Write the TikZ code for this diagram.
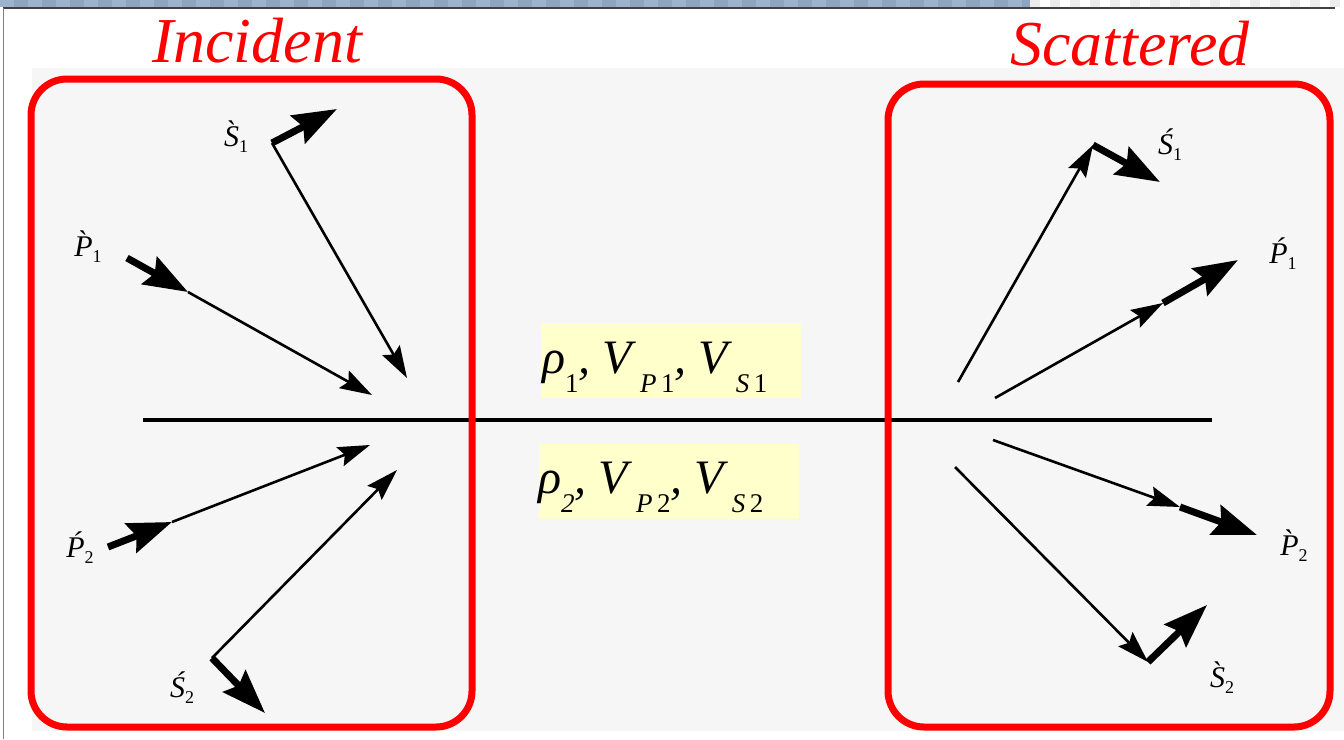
\documentclass[tikz,border=0pt]{standalone}
\usepackage{fontspec}
\setmainfont{Liberation Serif}
\usetikzlibrary{arrows.meta}
\definecolor{redbox}{HTML}{FF0000}
\definecolor{panel}{HTML}{F6F6F6}
\definecolor{yel}{HTML}{FFFFCC}
\definecolor{bluea}{HTML}{8EA4C1}
\definecolor{blueb}{HTML}{9DB2CC}
\definecolor{grayp}{HTML}{ECECEC}
\newcommand{\lsub}[1]{\raisebox{-6pt}{\fontsize{18}{18}\selectfont\upshape #1}}
\newcommand{\bsub}[1]{\raisebox{-19pt}{\fontsize{27}{27}\selectfont #1}}
\begin{document}
\begin{tikzpicture}[x=1pt,y=-1pt,
  rbox/.style={draw=redbox, line width=7pt, rounded corners=36pt},
  wthin/.style={line width=2.6pt, -{Stealth[length=32pt,width=20pt,inset=5pt]}},
  wthick/.style={line width=7pt, -{Stealth[length=44pt,width=31pt,inset=6pt]}},
  lbl/.style={font=\fontsize{30}{30}\selectfont\itshape, inner sep=0pt},
  ttl/.style={text=redbox, font=\fontsize{64}{64}\selectfont\itshape, inner sep=0pt, anchor=base},
  ybox/.style={fill=yel, minimum width=260pt, minimum height=75pt, inner sep=0pt},
  ytxt/.style={font=\fontsize{48}{48}\selectfont\itshape, inner sep=0pt, anchor=base west}]
\useasboundingbox (0,0) rectangle (1344,739);
\fill[white] (0,0) rectangle (1344,739);
% top strip
\fill[bluea] (0,0) rectangle (1030,7);
\foreach \i in {0,28,...,1008} \fill[blueb] (\i,0) rectangle ++(14,7);
\foreach \i in {1030,1050,...,1330} \fill[grayp] (\i,0) rectangle ++(10,7);
\draw[line width=1.5pt, black!75] (3,8) -- (1335,8);
\draw[line width=1.5pt, gray] (3.5,8) -- (3.5,739);
% scanned panel
\fill[panel] (32,68) rectangle (1344,731);
% yellow boxes
\node[ybox] (ytop) at (671,360.5) {};
\node[ybox] (ybot) at (668.5,481.5) {};
\node[ytxt] (ttop) at (542,373) {ρ\bsub{\upshape 1}, V\,\bsub{P\,\upshape 1}, V\,\bsub{S\,\upshape 1}};
\node[ytxt] (tbot) at (538,493) {ρ\bsub{2}, V\,\bsub{P\,\upshape 2}, V\,\bsub{S\,\upshape 2}};
% interface
\coordinate (hl) at (143,420);
\coordinate (hr) at (1212,420);
\draw[line width=3.5pt] (hl) -- (hr);
% incident coordinates
\coordinate (iS1c) at (272,143);
\coordinate (iS1t) at (337,109);
\coordinate (iS1e) at (407,378);
\coordinate (iP1s) at (127,258);
\coordinate (iP1m) at (188,292);
\coordinate (iP1e) at (372,395);
\coordinate (iP2s) at (108,547);
\coordinate (iP2m) at (172,522);
\coordinate (iP2e) at (370,445);
\coordinate (iS2c) at (212,658);
\coordinate (iS2t) at (265,713);
\coordinate (iS2e) at (397,470);
% scattered coordinates
\coordinate (sS1s) at (958,382);
\coordinate (sS1c) at (1093,145);
\coordinate (sS1t) at (1160,182);
\coordinate (sP1s) at (995,398);
\coordinate (sP1m) at (1163,303);
\coordinate (sP1e) at (1238,260);
\coordinate (sP2s) at (993,440);
\coordinate (sP2m) at (1180,507);
\coordinate (sP2e) at (1257,535);
\coordinate (sS2s) at (955,467);
\coordinate (sS2c) at (1148,662);
\coordinate (sS2t) at (1207,605);
% incident arrows
\draw[wthin] (iS1c) -- (iS1e);
\draw[wthick] (iS1c) -- (iS1t);
\draw[wthin] (iP1m) -- (iP1e);
\draw[wthick] (iP1s) -- (iP1m);
\draw[wthin] (iP2m) -- (iP2e);
\draw[wthick] (iP2s) -- (iP2m);
\draw[wthin] (iS2c) -- (iS2e);
\draw[wthick] (iS2c) -- (iS2t);
% scattered arrows
\draw[wthin] (sS1s) -- (sS1c);
\draw[wthick] (sS1c) -- (sS1t);
\draw[wthin] (sP1s) -- (sP1m);
\draw[wthick] (sP1m) -- (sP1e);
\draw[wthin] (sP2s) -- (sP2m);
\draw[wthick] (sP2m) -- (sP2e);
\draw[wthin] (sS2s) -- (sS2c);
\draw[wthick] (sS2c) -- (sS2t);
% labels
\node[lbl] (liS1) at (236,137) {\`{S}\lsub{1}};
\node[lbl] (liP1) at (88,247) {\`{P}\lsub{1}};
\node[lbl] (liP2) at (80,548) {\'{P}\lsub{2}};
\node[lbl] (liS2) at (182,688) {\'{S}\lsub{2}};
\node[lbl] (lsS1) at (1170,145) {\'{S}\lsub{1}};
\node[lbl] (lsP1) at (1283,254) {\'{P}\lsub{1}};
\node[lbl] (lsP2) at (1294,546) {\`{P}\lsub{2}};
\node[lbl] (lsS2) at (1222,678) {\`{S}\lsub{2}};
% red boxes
\draw[rbox] (31,79) rectangle (472,727);
\draw[rbox] (888,84) rectangle (1330,727);
% titles
\node[ttl] (tinc) at (257,62) {Incident};
\node[ttl] (tsca) at (1130,65) {Scattered};
\end{tikzpicture}
\end{document}
